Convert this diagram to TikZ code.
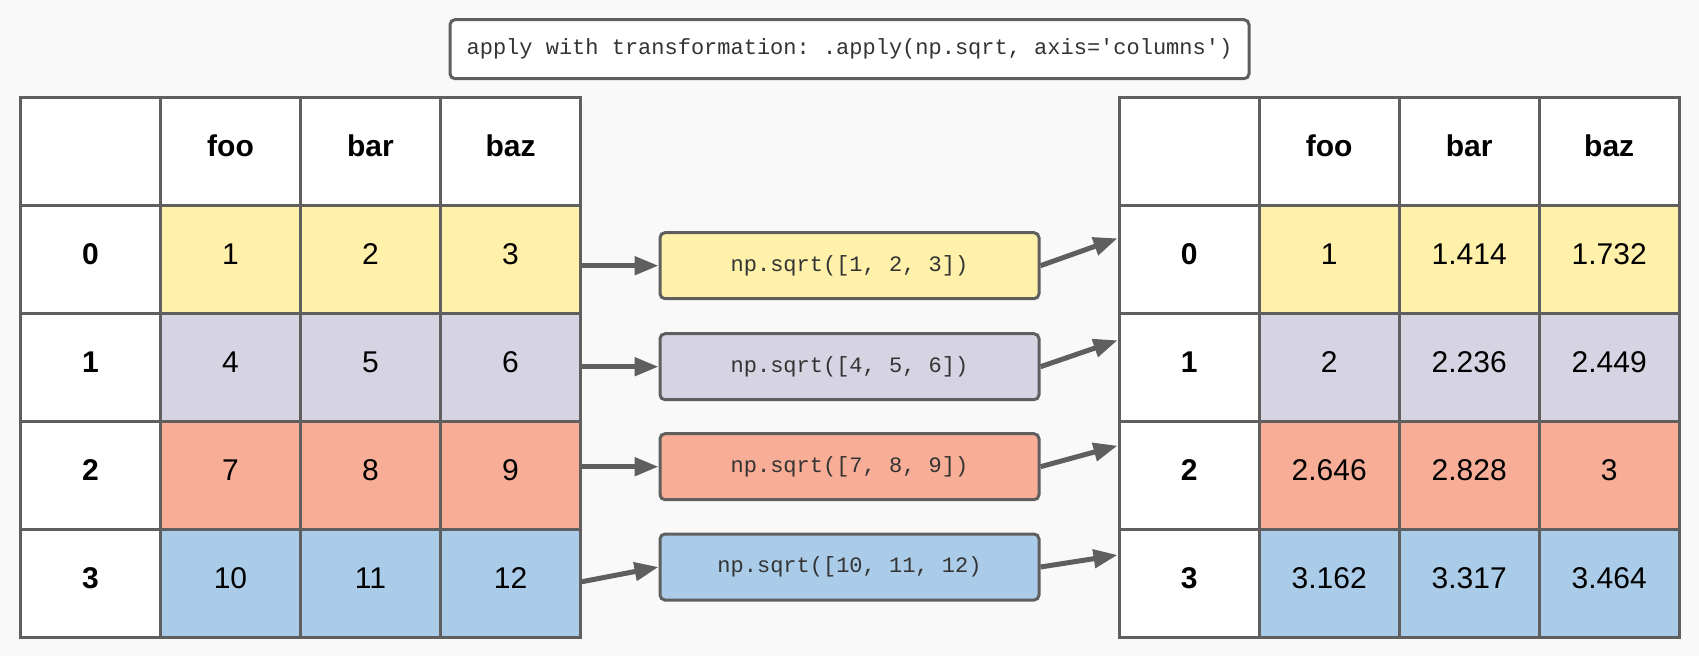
\documentclass[tikz,border=0pt]{standalone}
\usepackage{fontspec}
\setmainfont{Liberation Sans}
\setmonofont{Liberation Mono}
\usetikzlibrary{arrows.meta}
\definecolor{bgc}{HTML}{F9F9F9}
\definecolor{lnc}{HTML}{5F5F5F}
\definecolor{cy}{HTML}{FFF1AA}
\definecolor{cl}{HTML}{D6D4E2}
\definecolor{cs}{HTML}{F7AD96}
\definecolor{cb}{HTML}{AACCE8}
\definecolor{txc}{HTML}{333333}
\begin{document}
\begin{tikzpicture}[x=1pt,y=-1pt,
 cell/.style={draw=lnc,line width=3pt,minimum width=140pt,minimum height=108pt,inner sep=0pt,outer sep=0pt,
   font=\fontsize{30}{36}\selectfont,text height=21.6pt,text depth=11pt,fill=white},
 head/.style={cell,font=\fontsize{30}{36}\selectfont\bfseries},
 fnbox/.style={draw=lnc,line width=3pt,rounded corners=5pt,minimum width=379pt,minimum height=66pt,inner sep=0pt,
   font=\fontsize{22}{26}\selectfont\ttfamily,text=txc},
 arr/.style={draw=lnc,line width=5pt,-{Triangle[length=24pt,width=18pt]}}
]
\useasboundingbox (0,0) rectangle (1699,656);
\fill[bgc] (0,0) rectangle (1699,656);

% title box
\node[fnbox,minimum width=799pt,minimum height=59pt,fill=white] (apply) at (849.5,49.2)
  {apply with transformation: .apply(np.sqrt, axis='columns')};

% table frames: headers and index
\foreach \t/\x in {L/90.5,R/1189.2}{
  \node[cell] (\t-h0) at (\x,151.3) {};
  \foreach \n [count=\i] in {foo,bar,baz}
    \node[head] (\t-h\i) at (\x+140*\i,151.3) {\n};
  \foreach \r in {0,...,3}
    \node[head] (\t-\r-0) at (\x,259.3+108*\r) {\r};
}

% left data
\foreach \r/\f/\a/\b/\c in {0/cy/1/2/3,1/cl/4/5/6,2/cs/7/8/9,3/cb/10/11/12}{
  \node[cell,fill=\f] (L-\r-1) at (230.5,259.3+108*\r) {\a};
  \node[cell,fill=\f] (L-\r-2) at (370.5,259.3+108*\r) {\b};
  \node[cell,fill=\f] (L-\r-3) at (510.5,259.3+108*\r) {\c};
}
% right data
\foreach \r/\f/\a/\b/\c in {0/cy/1/1.414/1.732,1/cl/2/2.236/2.449,2/cs/2.646/2.828/3,3/cb/3.162/3.317/3.464}{
  \node[cell,fill=\f] (R-\r-1) at (1329.2,259.3+108*\r) {\a};
  \node[cell,fill=\f] (R-\r-2) at (1469.2,259.3+108*\r) {\b};
  \node[cell,fill=\f] (R-\r-3) at (1609.2,259.3+108*\r) {\c};
}

% function boxes
\node[fnbox,fill=cy] (M0) at (849.5,265.7) {np.sqrt([1, 2, 3])};
\node[fnbox,fill=cl] (M1) at (849.5,366.7) {np.sqrt([4, 5, 6])};
\node[fnbox,fill=cs] (M2) at (849.5,466.7) {np.sqrt([7, 8, 9])};
\node[fnbox,fill=cb] (M3) at (849.5,567) {np.sqrt([10, 11, 12)};

% arrow anchors
\coordinate (la0) at (580.4,265.7);
\coordinate (la1) at (580.4,366.7);
\coordinate (la2) at (580.4,466.7);
\coordinate (la3) at (580.4,582);
\coordinate (ra0) at (1117.5,238.3);
\coordinate (ra1) at (1117.5,340.3);
\coordinate (ra2) at (1117.5,445.7);
\coordinate (ra3) at (1117.5,555);

\foreach \i in {0,...,3}{
  \draw[arr] (la\i) -- (M\i.west);
  \draw[arr] (M\i.east) -- (ra\i);
}
\end{tikzpicture}
\end{document}
